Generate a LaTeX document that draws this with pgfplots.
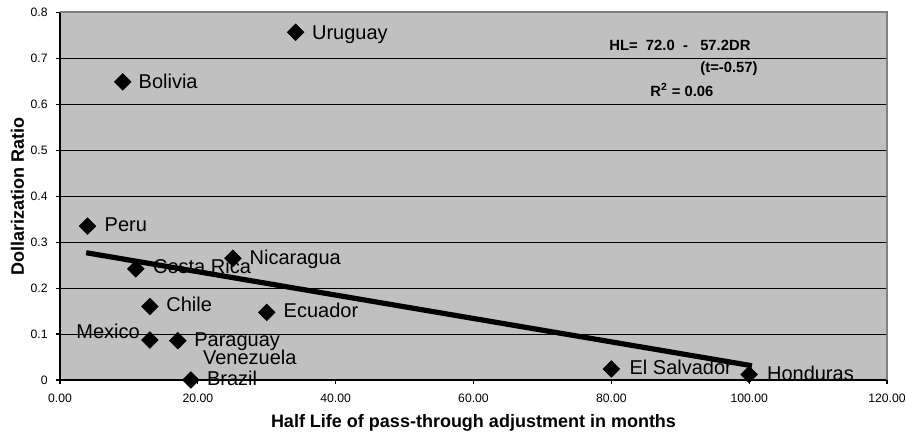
\documentclass[border=0pt]{standalone}
\usepackage{pgfplots}
\pgfplotsset{compat=1.18}
\usepackage{fontspec}
\setmainfont{Liberation Sans}
\definecolor{plotbg}{RGB}{192,192,192}
\definecolor{framegray}{RGB}{128,128,128}
\begin{document}
\begin{tikzpicture}
\begin{axis}[
  scale only axis, width=413.5pt, height=183.75pt,
  xmin=0, xmax=120, ymin=0, ymax=0.8,
  xtick={0,20,40,60,80,100,120},
  ytick={0,0.1,0.2,0.3,0.4,0.5,0.6,0.7,0.8},
  axis background/.style={fill=plotbg},
  axis x line*=bottom, axis y line*=left,
  axis line style={black, line width=1pt},
  ymajorgrids, major grid style={black, line width=0.5pt},
  tick style={black, line width=0.6pt}, tick align=outside, major tick length=2pt,
  /pgf/number format/assume math mode=true,
  xticklabel style={font=\fontsize{6.1}{7}\selectfont, inner sep=0pt, yshift=-5pt,
    /pgf/number format/.cd, fixed, fixed zerofill, precision=2},
  yticklabel style={font=\fontsize{6.1}{7}\selectfont, inner sep=0pt, xshift=-4pt,
    /pgf/number format/.cd, fixed},
  xlabel={Half Life of pass-through adjustment in months},
  ylabel={Dollarization Ratio},
  xlabel style={font=\bfseries\fontsize{9}{11}\selectfont, at={(axis description cs:0.5,0)}, anchor=base, yshift=-24pt, inner sep=0pt},
  ylabel style={font=\bfseries\fontsize{9}{11}\selectfont, at={(axis description cs:-0.0514,0.5)}, anchor=center, inner sep=0pt},
  clip=false,
]
\coordinate (sw) at (rel axis cs:0,0);
\coordinate (ne) at (rel axis cs:1,1);
\draw[framegray, line width=1pt] (rel axis cs:0,1) -- (rel axis cs:1,1) -- (rel axis cs:1,0);
% trend line
\addplot[black, line width=2.6pt, no marks] coordinates {(3.8,0.277) (100.4,0.031)};
% data points
\addplot[only marks, mark=square*, mark size=2.9pt, mark options={rotate=45, fill=black, draw=black}]
 coordinates {
 (34.2,0.757) (9.1,0.649) (4.0,0.335) (11.0,0.242) (25.1,0.265) (13.05,0.160)
 (13.05,0.087) (17.1,0.0856) (19.0,0.0) (30.0,0.147) (80.0,0.024) (100.0,0.012)
 };
\begin{scope}[every node/.style={anchor=base west, inner sep=0pt, font=\fontsize{10}{12}\selectfont}]
\node at (axis cs:36.52,0.7416) {Uruguay};
\node at (axis cs:11.36,0.6349) {Bolivia};
\node at (axis cs:6.43,0.3228) {Peru};
\node at (axis cs:13.45,0.2322) {Costa Rica};
\node at (axis cs:27.47,0.2518) {Nicaragua};
\node at (axis cs:15.38,0.1487) {Chile};
\node at (axis cs:32.4,0.1364) {Ecuador};
\node at (axis cs:2.32,0.0907) {Mexico};
\node at (axis cs:19.44,0.0725) {Paraguay};
\node at (axis cs:20.7,0.0327) {Venezuela};
\node at (axis cs:21.28,-0.0124) {Brazil};
\node at (axis cs:82.6,0.0109) {El Salvador};
\node at (axis cs:102.54,-0.0022) {Honduras};
\end{scope}
\begin{scope}[every node/.style={anchor=base west, inner sep=0pt, font=\bfseries\fontsize{7.4}{9}\selectfont}]
\node at (axis cs:79.66,0.7168) {HL=\ \ 72.0\ \ -\ \ \ 57.2DR};
\node at (axis cs:92.87,0.669) {(t=-0.57)};
\node at (axis cs:85.6,0.6167) {R\textsuperscript{2} = 0.06};
\end{scope}
\end{axis}
\pgfresetboundingbox
\path[use as bounding box] ([shift={(-30pt,-27pt)}]sw) rectangle ([shift={(9.5pt,6.25pt)}]ne);
\end{tikzpicture}
\end{document}
